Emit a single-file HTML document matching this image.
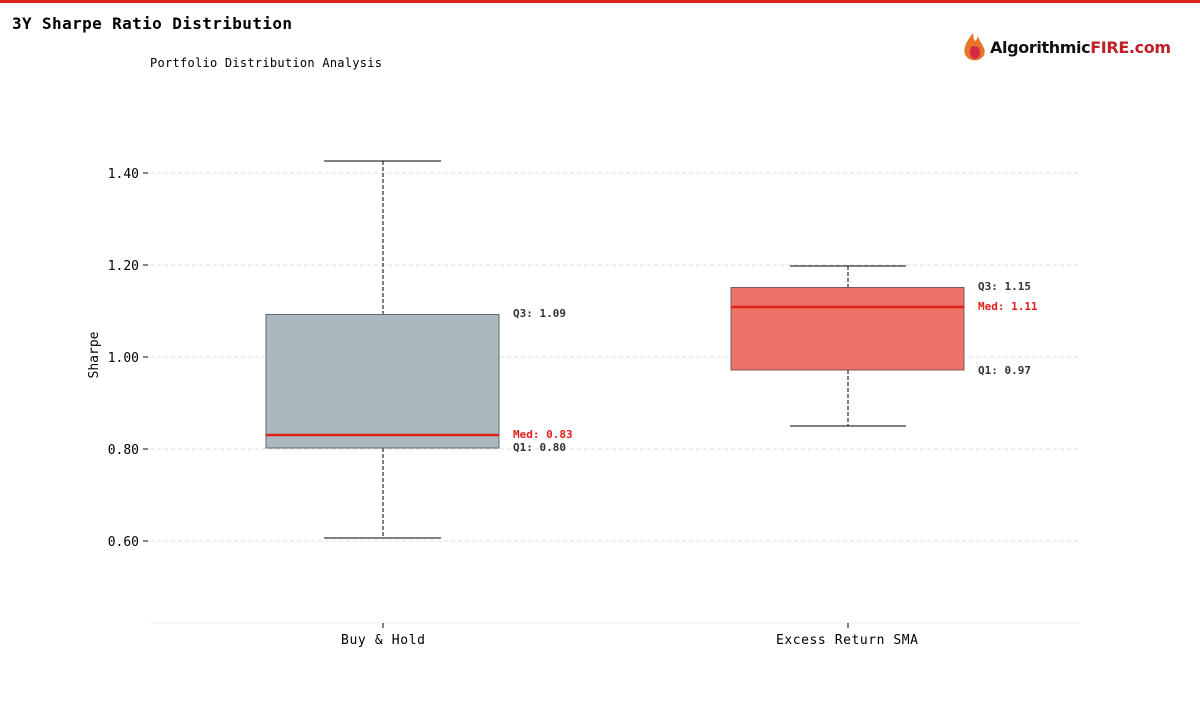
<!DOCTYPE html>
<html><head><meta charset="utf-8"><style>
body{margin:0;width:1200px;height:700px;background:#fff;overflow:hidden;font-family:"DejaVu Sans Mono",monospace}
</style></head><body>
<svg width="1200" height="700" xmlns="http://www.w3.org/2000/svg" font-family="DejaVu Sans Mono, Liberation Mono, monospace">
<rect x="0" y="0" width="1200" height="3" fill="#e0201a"/>
<text x="12" y="29" font-size="16" font-weight="bold" fill="#000" textLength="280">3Y Sharpe Ratio Distribution</text>
<text x="150" y="67" font-size="12" fill="#000" textLength="232">Portfolio Distribution Analysis</text>
<g>
<path d="M973 33 C966 42 962 50 966 56 C970 62 980 62 984 55 C987 48 980 44 978 36 C976 42 974 44 973 33Z" fill="#e8742a"/>
<path d="M972 46 C968 52 970 58 975 59 C980 58 982 52 978 47Z" fill="#d42a4a"/>
<text x="990" y="53" font-family="DejaVu Sans, sans-serif" font-size="16" font-weight="bold" fill="#111" textLength="181">Algorithmic<tspan fill="#c0202a">FIRE.com</tspan></text>
</g>
<g stroke="#ddd" stroke-dasharray="4,3" stroke-width="1">
<line x1="150" y1="173" x2="1080" y2="173"/><line x1="150" y1="265" x2="1080" y2="265"/>
<line x1="150" y1="357" x2="1080" y2="357"/><line x1="150" y1="449" x2="1080" y2="449"/>
<line x1="150" y1="541" x2="1080" y2="541"/>
</g>
<line x1="150" y1="623" x2="1080" y2="623" stroke="#eee"/>
<g font-size="13" fill="#000" text-anchor="end">
<text x="139" y="178">1.40</text><text x="139" y="270">1.20</text><text x="139" y="362">1.00</text>
<text x="139" y="454">0.80</text><text x="139" y="546">0.60</text>
</g>
<g stroke="#000"><line x1="143" y1="173" x2="148" y2="173"/><line x1="143" y1="265" x2="148" y2="265"/><line x1="143" y1="357" x2="148" y2="357"/><line x1="143" y1="449" x2="148" y2="449"/><line x1="143" y1="541" x2="148" y2="541"/>
<line x1="383" y1="623" x2="383" y2="628"/><line x1="848" y1="623" x2="848" y2="628"/></g>
<text x="98" y="355" font-size="13" text-anchor="middle" transform="rotate(-90 98 355)">Sharpe</text>
<text x="383" y="644" font-size="13" text-anchor="middle" textLength="84">Buy &amp; Hold</text>
<text x="847" y="644" font-size="13" text-anchor="middle" textLength="142">Excess Return SMA</text>
<g stroke="#000" stroke-width="1">
<line x1="383" y1="161" x2="383" y2="314" stroke-dasharray="4,2"/>
<line x1="383" y1="448" x2="383" y2="538" stroke-dasharray="4,2"/>
<line x1="324" y1="161" x2="441" y2="161"/><line x1="324" y1="538" x2="441" y2="538"/>
<line x1="848" y1="266" x2="848" y2="287" stroke-dasharray="4,2"/>
<line x1="848" y1="370" x2="848" y2="426" stroke-dasharray="4,2"/>
<line x1="790" y1="266" x2="906" y2="266"/><line x1="790" y1="426" x2="906" y2="426"/>
</g>
<rect x="266" y="314.5" width="233" height="133.5" fill="#aab9bf" stroke="#5f6b6d"/>
<line x1="266" y1="435" x2="499" y2="435" stroke="#e0201a" stroke-width="2.5"/>
<rect x="731" y="287.5" width="233" height="82.5" fill="#ee7268" stroke="#7a5a58"/>
<line x1="731" y1="307" x2="964" y2="307" stroke="#e0201a" stroke-width="2.5"/>
<g font-size="11" font-weight="bold" fill="#333">
<text x="513" y="317">Q3: 1.09</text>
<text x="513" y="438" fill="#e0201a">Med: 0.83</text>
<text x="513" y="451">Q1: 0.80</text>
<text x="978" y="290">Q3: 1.15</text>
<text x="978" y="310" fill="#e0201a">Med: 1.11</text>
<text x="978" y="374">Q1: 0.97</text>
</g>
</svg>
</body></html>
